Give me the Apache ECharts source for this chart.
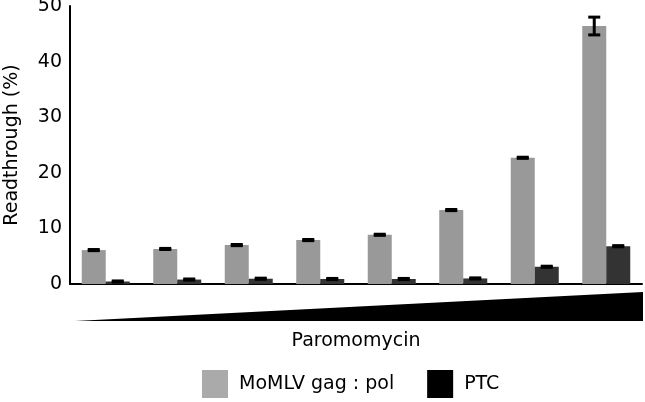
<!DOCTYPE html>
<html>
<head>
<meta charset="utf-8">
<script src="https://cdn.jsdelivr.net/npm/echarts@6/dist/echarts.min.js"></script>
<style>
html,body{margin:0;padding:0;background:#fff;}
#c{width:645px;height:402px;}
</style>
</head>
<body>
<div id="c"></div>
<script>
const categories = ['1', '2', '3', '4', '5', '6', '7', '8'];
const gagPol = [6.1, 6.3, 7.0, 7.9, 8.85, 13.3, 22.7, 46.4];
const gagPolErr = [0.1, 0.1, 0.1, 0.1, 0.1, 0.1, 0.1, 1.6];
const ptc = [0.45, 0.8, 0.95, 0.9, 0.9, 1.0, 3.1, 6.8];
const ptcErr = [0.1, 0.1, 0.1, 0.1, 0.1, 0.1, 0.1, 0.1];
const yTicks = [0, 10, 20, 30, 40, 50];

const FONT = 'DejaVu Sans';
const BAR_W = 24;

const chart = echarts.init(document.getElementById('c'), null, {renderer: 'canvas'});

function errRender(offset) {
  return function (params, api) {
    const idx = api.value(0), v = api.value(1), e = api.value(2);
    const hi = api.coord([idx, v + e]);
    const lo = api.coord([idx, v - e]);
    const x = hi[0] + offset;
    const hw = 6;
    const st = {stroke: '#000', lineWidth: 3};
    return {
      type: 'group',
      children: [
        {type: 'line', shape: {x1: x, y1: hi[1], x2: x, y2: lo[1]}, style: st},
        {type: 'line', shape: {x1: x - hw, y1: hi[1], x2: x + hw, y2: hi[1]}, style: st},
        {type: 'line', shape: {x1: x - hw, y1: lo[1], x2: x + hw, y2: lo[1]}, style: st}
      ]
    };
  };
}

const gridLeft = 70, gridRight = 3, gridTop = 6, gridBottom = 118;
const W = 645, H = 402;
const axisY = H - gridBottom;

chart.setOption({
  animation: false,
  textStyle: {fontFamily: FONT},
  grid: {left: gridLeft, right: gridRight, top: gridTop, bottom: gridBottom,
         containLabel: false, outerBoundsMode: 'none'},
  legend: {
    data: [
      {name: 'MoMLV gag : pol', itemStyle: {color: '#aaaaaa'}},
      {name: 'PTC', itemStyle: {color: '#000000'}}
    ],
    left: 202, top: 370, padding: 0,
    itemWidth: 26, itemHeight: 28, itemGap: 33,
    icon: 'rect',
    textStyle: {fontFamily: FONT, fontSize: 19, color: '#000', padding: [0, 0, 0, 6]}
  },
  xAxis: {
    type: 'category',
    data: categories,
    name: 'Paromomycin',
    nameLocation: 'middle',
    nameGap: 48,
    nameTextStyle: {fontFamily: FONT, fontSize: 19, color: '#000'},
    axisLine: {lineStyle: {color: '#000', width: 2}},
    axisTick: {show: false},
    axisLabel: {show: false}
  },
  yAxis: {
    type: 'value',
    min: yTicks[0], max: yTicks[yTicks.length - 1], interval: 10,
    name: 'Readthrough (%)',
    nameLocation: 'middle',
    nameGap: 48,
    nameTextStyle: {fontFamily: FONT, fontSize: 19, color: '#000'},
    axisLine: {show: true, lineStyle: {color: '#000', width: 2}},
    axisTick: {show: false},
    splitLine: {show: false},
    axisLabel: {fontFamily: FONT, fontSize: 19, color: '#000', margin: 8}
  },
  graphic: [{
    type: 'polygon',
    shape: {points: [[gridLeft + 5, axisY + 37], [W - 2, axisY + 8], [W - 2, axisY + 37]]},
    style: {fill: '#000'}
  }],
  series: [
    {name: 'MoMLV gag : pol', type: 'bar', data: gagPol, barWidth: BAR_W, barGap: '0%',
     itemStyle: {color: '#999999'}},
    {name: 'PTC', type: 'bar', data: ptc, barWidth: BAR_W, barGap: '0%',
     itemStyle: {color: '#333333'}},
    {name: 'errGag', type: 'custom', renderItem: errRender(-BAR_W / 2), z: 10,
     encode: {x: 0, y: 1},
     data: gagPol.map((v, i) => [i, v, gagPolErr[i]])},
    {name: 'errPtc', type: 'custom', renderItem: errRender(BAR_W / 2), z: 10,
     encode: {x: 0, y: 1},
     data: ptc.map((v, i) => [i, v, ptcErr[i]])}
  ]
});
</script>
</body>
</html>
